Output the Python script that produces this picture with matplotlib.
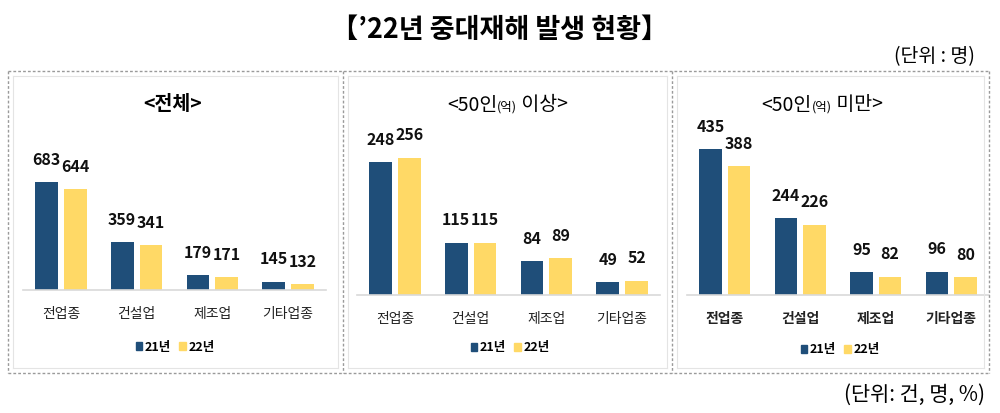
import matplotlib
matplotlib.use("Agg")
import matplotlib.pyplot as plt
from matplotlib.patches import Patch
from matplotlib.lines import Line2D
import numpy as np

plt.rcParams['font.family'] = ['Noto Sans CJK KR', 'DejaVu Sans']

categories = ['전업종', '건설업', '제조업', '기타업종']
series_names = ['21년', '22년']

total_21 = [683, 359, 179, 145]
total_22 = [644, 341, 171, 132]
over50_21 = [248, 115, 84, 49]
over50_22 = [256, 115, 89, 52]
under50_21 = [435, 244, 95, 96]
under50_22 = [388, 226, 82, 80]

NAVY = '#1F4E79'
YELLOW = '#FFD966'
W, H = 1000, 413


def fx(x):
    return x / W


def fy(y):
    return 1 - y / H


fig = plt.figure(figsize=(10, 4.13), dpi=100)

# title and unit notes
fig.text(0.5, fy(30), '【’22년 중대재해 발생 현황】', ha='center', va='center',
         fontsize=19.5, weight='heavy')
fig.text(fx(975), fy(57), '(단위 : 명)', ha='right', va='center', fontsize=14)
fig.text(fx(985), fy(395), '(단위: 건, 명, %)', ha='right', va='center', fontsize=15)

# dashed frames
dash = dict(color='#9a9a9a', lw=1.0, ls=(0, (2, 1.5)), transform=fig.transFigure)
for xs, ys in [([8, 989], [71, 71]), ([8, 989], [373, 373]),
               ([8, 8], [71, 373]), ([989, 989], [71, 373]),
               ([343, 343], [71, 373]), ([672, 672], [71, 373])]:
    fig.add_artist(Line2D([fx(v) for v in xs], [fy(v) for v in ys], **dash))
faint = dict(color='#e4e4e4', lw=0.8, transform=fig.transFigure)
for l, r in [(13, 338), (348, 667), (677, 984)]:
    for xs, ys in [([l, r], [76, 76]), ([l, r], [368, 368]),
                   ([l, l], [76, 368]), ([r, r], [76, 368])]:
        fig.add_artist(Line2D([fx(v) for v in xs], [fy(v) for v in ys], **faint))

# panel layout: (left px, right px, baseline px, ymin, value per px, legend x, legend y)
panels = [
    (total_21, total_22, 23, 326, 290, 100, 5.4, 175, 347, False),
    (over50_21, over50_22, 357, 660, 295, 28, 1.66, 510, 348, False),
    (under50_21, under50_22, 687, 989, 295, 31, 2.77, 840, 350, True),
]
top_px = 125

x = np.arange(len(categories))
bw = 0.30
off = 0.19

for v21, v22, left, right, base, ymin, vpp, leg_x, leg_y, bold_ticks in panels:
    ax = fig.add_axes([fx(left), fy(base), (right - left) / W, (base - top_px) / H])
    ax.set_xlim(-0.5, 3.5)
    ax.set_ylim(ymin, ymin + (base - top_px) * vpp)
    ax.bar(x - off, v21, bw, color=NAVY)
    ax.bar(x + off, v22, bw, color=YELLOW)
    for xs, vals in [(x - off, v21), (x + off, v22)]:
        for xi, v in zip(xs, vals):
            ax.annotate(str(v), (xi, v), xytext=(0, 16), textcoords='offset points',
                        ha='center', va='center', fontsize=11.5, weight='bold',
                        color='#111111')
    for s in ['top', 'left', 'right']:
        ax.spines[s].set_visible(False)
    ax.spines['bottom'].set_color('#d9d9d9')
    ax.spines['bottom'].set_linewidth(1.2)
    ax.set_yticks([])
    ax.set_xticks(x)
    ax.set_xticklabels(categories, fontsize=10,
                       weight='bold' if bold_ticks else 'normal', color='#222222')
    ax.tick_params(axis='x', length=0, pad=12)
    ax.patch.set_alpha(0)
    handles = [Patch(color=NAVY), Patch(color=YELLOW)]
    ax.legend(handles, series_names, loc='center', bbox_to_anchor=(fx(leg_x), fy(leg_y)),
              bbox_transform=fig.transFigure, ncol=2, frameon=False,
              handlelength=0.5, handleheight=0.6, handletextpad=0.2,
              columnspacing=0.7, prop={'size': 9, 'weight': 'bold'})

# panel titles
fig.text(fx(173), fy(105), '<전체>', ha='center', va='center', fontsize=14, weight='bold')
for cx, tail in [(507, ' 이상>'), (822, ' 미만>')]:
    fig.text(fx(cx - 10), fy(105), '<50인', ha='right', va='center', fontsize=14,
             weight='medium')
    fig.text(fx(cx), fy(107), '(억)', ha='center', va='center', fontsize=9)
    fig.text(fx(cx + 10), fy(105), tail, ha='left', va='center', fontsize=14,
             weight='medium')

fig.savefig('out.png', dpi=100)
